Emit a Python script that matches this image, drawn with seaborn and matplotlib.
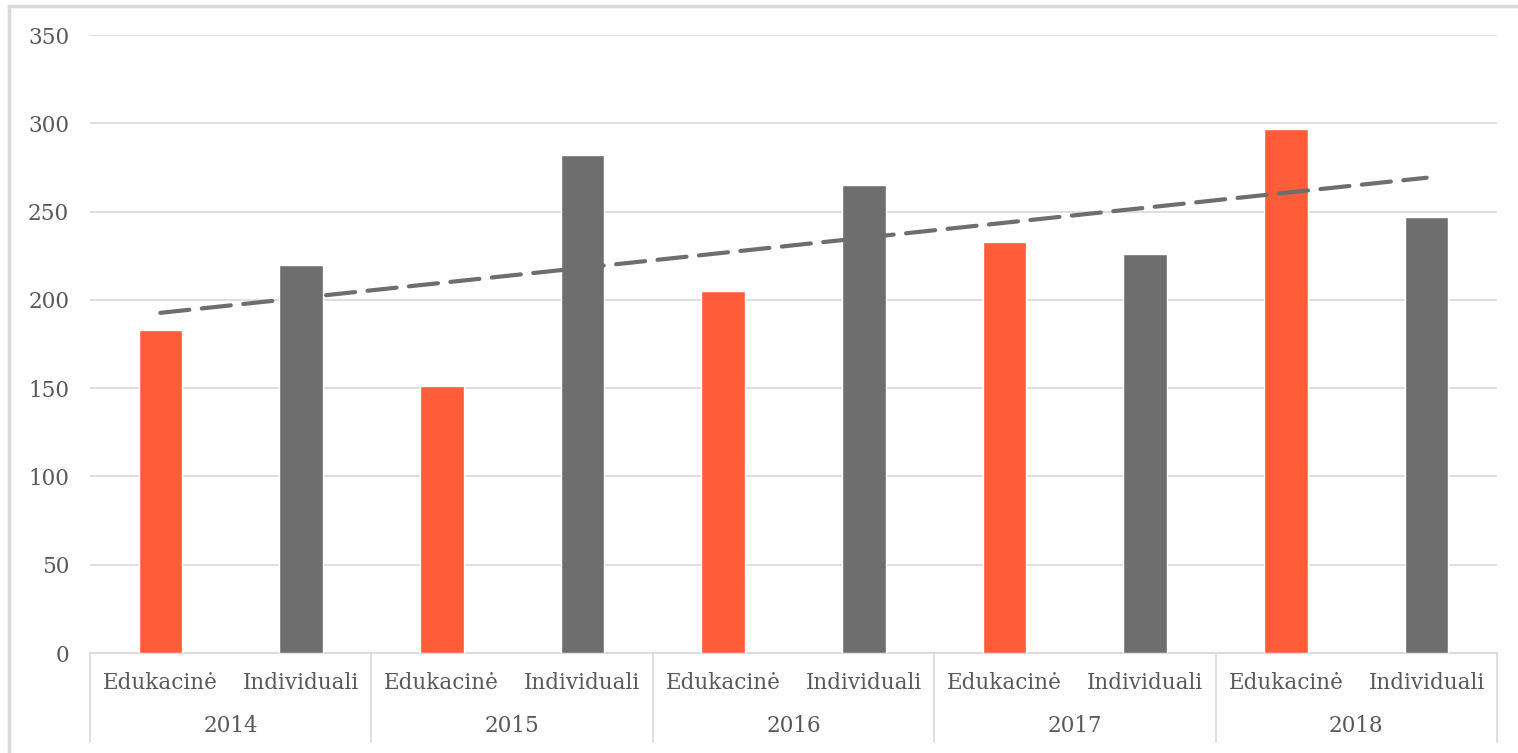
import numpy as np
import pandas as pd
import matplotlib
matplotlib.use("Agg")
import matplotlib.pyplot as plt
from matplotlib.lines import Line2D
import seaborn as sns

# ---------- DATA ----------
years = ["2014", "2015", "2016", "2017", "2018"]
types = ["Edukacinė", "Individuali"]
edukacine = [183, 151, 205, 233, 297]
individuali = [220, 282, 265, 226, 247]

colors = {"Edukacinė": "#ff5c39", "Individuali": "#6e6e6e"}
text_col = "#595959"
grid_col = "#d9d9d9"

rows = []
for i, y in enumerate(years):
    rows.append({"year": y, "type": types[0], "value": edukacine[i]})
    rows.append({"year": y, "type": types[1], "value": individuali[i]})
df = pd.DataFrame(rows)
df["label"] = df["year"] + " " + df["type"]
df["pos"] = np.arange(len(df))

# ---------- PLOT ----------
sns.set_style("white")
plt.rcParams["font.family"] = ["DejaVu Serif"]

fig = plt.figure(figsize=(15.18, 7.53), dpi=100)
ax = fig.add_axes([90 / 1518, 1 - 653 / 753, 1407 / 1518, 618 / 753])

sns.barplot(data=df, x="label", y="value", hue="type", palette=colors,
            saturation=1, width=0.31, dodge=False, legend=False, ax=ax,
            zorder=3)

# linear trendline over all bars
sns.regplot(data=df, x="pos", y="value", scatter=False, ci=None, ax=ax,
            line_kws=dict(color="#6e6e6e", lw=3, ls=(0, (7, 3)),
                          dash_capstyle="round", zorder=4))

ax.set_xlim(-0.5, len(df) - 0.5)
ax.set_ylim(0, 350)
ax.set_yticks(range(0, 351, 50))
ax.yaxis.grid(True, color=grid_col, lw=1.2)
ax.set_axisbelow(True)
for s in ["top", "right", "left"]:
    ax.spines[s].set_visible(False)
ax.spines["bottom"].set_color(grid_col)
ax.spines["bottom"].set_linewidth(1.2)
ax.tick_params(axis="y", length=0, pad=15, labelsize=15.5, labelcolor=text_col)
ax.set_xticks([])
ax.set_xlabel("")
ax.set_ylabel("")

# two-level category axis
trans = ax.get_xaxis_transform()
for i, lab in enumerate(df["type"]):
    ax.text(i, -0.048, lab, transform=trans, ha="center", va="center",
            fontsize=15.5, color=text_col)
for j, y in enumerate(years):
    ax.text(2 * j + 0.5, -0.118, y, transform=trans, ha="center",
            va="center", fontsize=15.5, color=text_col)
for k in range(len(years) + 1):
    ax.add_line(Line2D([2 * k - 0.5, 2 * k - 0.5], [0, -0.144],
                       transform=trans, color=grid_col, lw=1.2,
                       clip_on=False))

# outer chart border
fig.add_artist(Line2D([9 / 1518, 9 / 1518], [0, 1 - 6 / 753],
                      transform=fig.transFigure, color="#d9d9d9", lw=2.5))
fig.add_artist(Line2D([9 / 1518, 1], [1 - 6 / 753, 1 - 6 / 753],
                      transform=fig.transFigure, color="#d9d9d9", lw=2.5))

fig.savefig("out.png", dpi=100, facecolor="white")
